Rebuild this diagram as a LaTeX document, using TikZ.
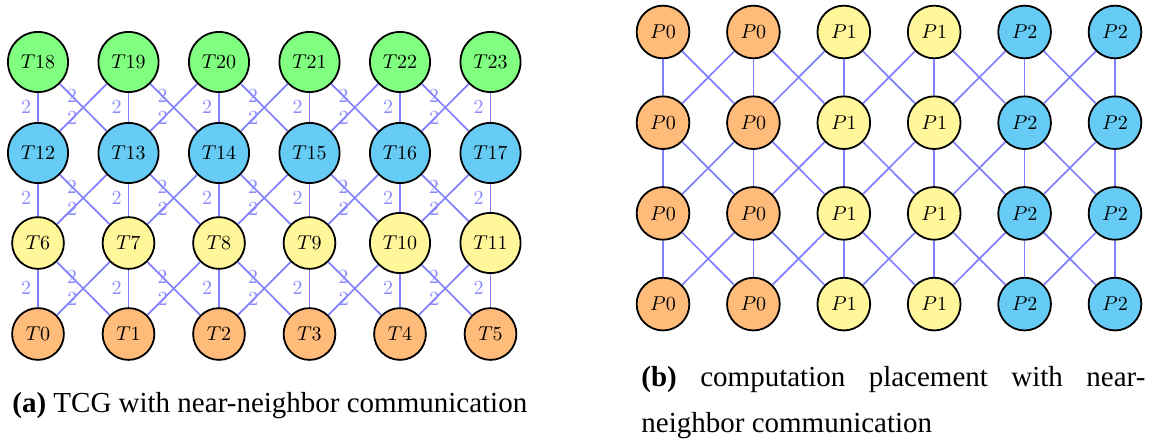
\documentclass[tikz,border=0pt]{standalone}
\usepackage{fontspec}
\setmainfont{Liberation Serif}
\definecolor{cOr}{RGB}{255,187,122}
\definecolor{cYe}{RGB}{255,247,153}
\definecolor{cBl}{RGB}{102,204,245}
\definecolor{cGr}{RGB}{128,255,128}
\begin{document}
\begin{tikzpicture}[x=0.5pt,y=-0.5pt,
  vtx/.style={circle,draw=black,line width=0.9pt,inner sep=4.3pt,font=\normalsize},
  edge/.style={draw=blue!50,line width=0.85pt},
  lbl/.style={text=blue!45,inner sep=0pt,font=\normalsize},
  captext/.style={font=\fontsize{14.5}{17}\selectfont,inner sep=0pt}]
\useasboundingbox (0,0) rectangle (1156,442);
% ---------- (a) TCG ----------
\foreach \r/\y/\col in {0/334/cOr,1/243/cYe,2/153/cBl,3/62/cGr} {
  \foreach \c in {0,...,5} {
    \pgfmathtruncatemacro{\n}{6*\r+\c}
    \node[vtx,fill=\col] (T\n) at ({38+90.5*\c},\y) {$T\n$};
  }
}
\foreach \r in {0,1,2} {
  \foreach \c in {0,...,5} {
    \pgfmathtruncatemacro{\nA}{6*\r+\c}
    \pgfmathtruncatemacro{\nB}{6*(\r+1)+\c}
    \draw[edge] (T\nA) -- (T\nB);
    \path (T\nA.center) -- node[lbl,xshift=-6pt]{$2$} (T\nB.center);
  }
  \foreach \c in {0,...,4} {
    \pgfmathtruncatemacro{\nA}{6*(\r+1)+\c}
    \pgfmathtruncatemacro{\nB}{6*(\r+1)+\c+1}
    \pgfmathtruncatemacro{\nC}{6*\r+\c}
    \pgfmathtruncatemacro{\nD}{6*\r+\c+1}
    \draw[edge] (T\nA) -- (T\nD);
    \draw[edge] (T\nB) -- (T\nC);
    \path (T\nA.center) -- node[lbl,pos=0.375]{$2$} (T\nD.center);
    \path (T\nB.center) -- node[lbl,pos=0.62]{$2$} (T\nC.center);
  }
}
% ---------- (b) placement ----------
\foreach \r in {0,...,3} {
  \foreach \c/\lab/\col in {0/0/cOr,1/0/cOr,2/1/cYe,3/1/cYe,4/2/cBl,5/2/cBl} {
    \node[vtx,fill=\col] (P-\r-\c) at ({663+90.4*\c},{32+90.7*\r}) {$P\lab$};
  }
}
\foreach \r in {0,1,2} {
  \pgfmathtruncatemacro{\rn}{\r+1}
  \foreach \c in {0,...,5} {
    \draw[edge] (P-\r-\c) -- (P-\rn-\c);
  }
  \foreach \c in {0,...,4} {
    \pgfmathtruncatemacro{\cn}{\c+1}
    \draw[edge] (P-\r-\c) -- (P-\rn-\cn);
    \draw[edge] (P-\r-\cn) -- (P-\rn-\c);
  }
}
% ---------- captions ----------
\node[captext,anchor=base west] (capa) at (12,413) {\textbf{(a)} TCG with near-neighbor communication};
\node[captext,anchor=base west] (capb1) at (641,387) {\hbox to 252pt{\textbf{(b)}\hfill computation\hfill placement\hfill with\hfill near-}};
\node[captext,anchor=base west] (capb2) at (641,433) {neighbor communication};
\end{tikzpicture}
\end{document}
